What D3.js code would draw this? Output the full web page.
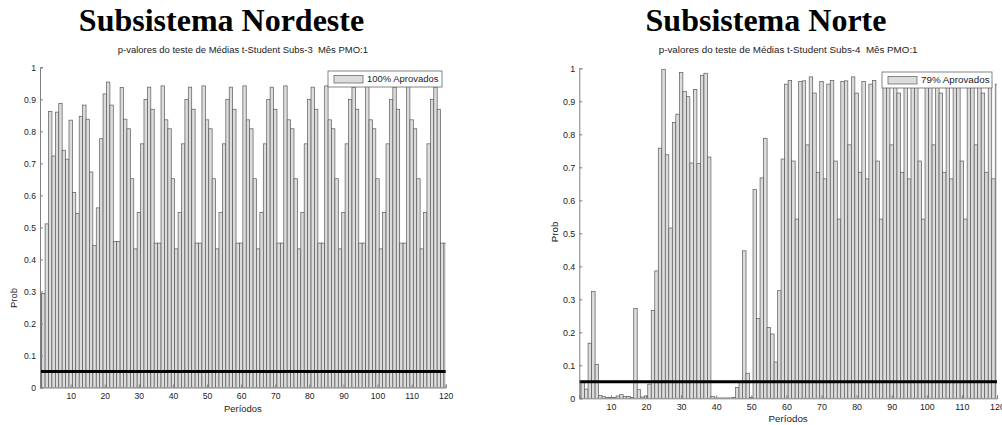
<!DOCTYPE html>
<html>
<head>
<meta charset="utf-8">
<script src="https://cdn.jsdelivr.net/npm/d3@7/dist/d3.min.js"></script>
<style>
  body { margin: 0; background: #fff; }
  svg text { font-family: "Liberation Sans", Arial, sans-serif; white-space: pre; }
</style>
</head>
<body>
<svg id="chart" width="1002" height="425"></svg>
<script>
// periods 1..120 on the x axis
const periods = d3.range(1, 121);
const xTicks = [10, 20, 30, 40, 50, 60, 70, 80, 90, 100, 110, 120];
const yTicks = [0, 0.1, 0.2, 0.3, 0.4, 0.5, 0.6, 0.7, 0.8, 0.9, 1];
const threshold = 0.05;

// Subs-3 (Nordeste), p-value per period
const nordesteValues = [
  0.294, 0.294, 0.511, 0.862, 0.723, 0.860, 0.887, 0.741, 0.713, 0.835,
  0.609, 0.543, 0.847, 0.882, 0.838, 0.673, 0.444, 0.561, 0.777, 0.917,
  0.954, 0.882, 0.456, 0.456, 0.937, 0.838, 0.808, 0.652, 0.433, 0.547,
  0.761, 0.900, 0.938, 0.869, 0.451, 0.451, 0.942, 0.836, 0.808, 0.652,
  0.433, 0.547, 0.761, 0.900, 0.938, 0.869, 0.451, 0.451, 0.942, 0.836,
  0.808, 0.652, 0.433, 0.547, 0.761, 0.900, 0.938, 0.869, 0.451, 0.451,
  0.942, 0.836, 0.808, 0.652, 0.433, 0.547, 0.761, 0.900, 0.938, 0.869,
  0.451, 0.451, 0.942, 0.836, 0.808, 0.652, 0.433, 0.547, 0.761, 0.900,
  0.938, 0.869, 0.451, 0.451, 0.942, 0.836, 0.808, 0.652, 0.433, 0.547,
  0.761, 0.900, 0.938, 0.869, 0.451, 0.451, 0.942, 0.836, 0.808, 0.652,
  0.433, 0.547, 0.761, 0.900, 0.938, 0.869, 0.451, 0.451, 0.942, 0.836,
  0.808, 0.652, 0.433, 0.547, 0.761, 0.900, 0.938, 0.869, 0.451, 0.451
];

// Subs-4 (Norte), p-value per period
const norteValues = [
  0.050, 0.050, 0.028, 0.167, 0.324, 0.103, 0.008, 0.005, 0.003, 0.002,
  0.003, 0.007, 0.011, 0.005, 0.006, 0.002, 0.272, 0.026, 0.004, 0.007,
  0.043, 0.266, 0.386, 0.758, 0.997, 0.738, 0.516, 0.836, 0.861, 0.987,
  0.930, 0.914, 0.713, 0.936, 0.711, 0.979, 0.985, 0.731, 0.006, 0.001,
  0.001, 0.001, 0.001, 0.001, 0.002, 0.033, 0.050, 0.447, 0.076, 0.002,
  0.633, 0.242, 0.668, 0.788, 0.215, 0.195, 0.110, 0.326, 0.725, 0.952,
  0.963, 0.719, 0.543, 0.960, 0.962, 0.768, 0.974, 0.925, 0.685, 0.960,
  0.665, 0.952, 0.963, 0.719, 0.543, 0.960, 0.962, 0.768, 0.974, 0.925,
  0.685, 0.960, 0.665, 0.952, 0.963, 0.719, 0.543, 0.960, 0.962, 0.768,
  0.974, 0.925, 0.685, 0.960, 0.665, 0.952, 0.963, 0.719, 0.543, 0.960,
  0.962, 0.768, 0.974, 0.925, 0.685, 0.960, 0.665, 0.952, 0.963, 0.719,
  0.543, 0.960, 0.962, 0.768, 0.974, 0.925, 0.685, 0.960, 0.665, 0.952
];

const panels = [
  {
    id: 'ne', values: nordesteValues,
    title: 'Subsistema Nordeste',
    subtitle: 'p-valores do teste de Médias t-Student Subs-3  Mês PMO:1',
    legend: '100% Aprovados',
    left: 40, right: 445.7, top: 67.3, bottom: 387.5,
    titleX: 221.5, font: 8.6,
    legendBox: [328, 71, 114, 16], probX: 17, probY: 298
  },
  {
    id: 'no', values: norteValues,
    title: 'Subsistema Norte',
    subtitle: 'p-valores do teste de Médias t-Student Subs-4  Mês PMO:1',
    legend: '79% Aprovados',
    left: 579.3, right: 997, top: 68.3, bottom: 398.3,
    titleX: 766, font: 8.9,
    legendBox: [882, 72, 110, 16], probX: 557.5, probY: 232
  }
];

const barFill = '#dcdcdc';
const barEdge = '#5a5a5a';
const axisColor = '#808080';


function drawBars(g, x, y, values, clipId) {
  g.append('g')
      .attr('class', 'bars')
      .attr('clip-path', `url(#${clipId})`)
    .selectAll('rect')
    .data(periods.map((p, i) => ({p, v: values[i]})))
    .enter().append('rect')
      .attr('x', d => x(d.p - 0.5))
      .attr('width', d => x(d.p + 0.5) - x(d.p - 0.5))
      .attr('y', d => y(d.v))
      .attr('height', d => y(0) - y(d.v))
      .style('fill', barFill)
      .style('stroke', barEdge)
      .style('stroke-width', 0.7);
}


function drawAxes(g, x, y, cfg) {
  const yAxis = g.append('g')
      .attr('transform', `translate(${cfg.left},0)`)
      .call(d3.axisLeft(y).tickValues(yTicks).tickSize(-3).tickPadding(4)
        .tickFormat(d3.format('~g')));
  const xAxis = g.append('g')
      .attr('transform', `translate(0,${cfg.bottom})`)
      .call(d3.axisBottom(x).tickValues(xTicks).tickSize(-3).tickPadding(5));
  [yAxis, xAxis].forEach(a => {
    a.select('.domain').attr('stroke', axisColor);
    a.selectAll('.tick line').attr('stroke', axisColor);
    a.selectAll('.tick text')
        .attr('fill', '#222')
        .style('font-size', `${cfg.font}px`)
        .style('font-family', '"Liberation Sans", Arial, sans-serif');
  });
  // axis labels
  g.append('text')
      .attr('x', (cfg.left + cfg.right) / 2)
      .attr('y', cfg.bottom + 24)
      .attr('text-anchor', 'middle')
      .style('font-size', `${cfg.font * 1.1}px`)
      .attr('fill', '#222')
      .text('Períodos');
  g.append('text')
      .attr('transform', `translate(${cfg.probX},${cfg.probY}) rotate(-90)`)
      .attr('text-anchor', 'middle')
      .style('font-size', `${cfg.font * 1.1}px`)
      .attr('fill', '#222')
      .text('Prob');
}


function drawLegend(g, cfg) {
  const [lx, ly, lw, lh] = cfg.legendBox;
  const lg = g.append('g').attr('class', 'legend');
  lg.append('rect')
      .attr('x', lx).attr('y', ly).attr('width', lw).attr('height', lh)
      .style('fill', '#fff')
      .style('stroke', '#666')
      .style('stroke-width', 0.8);
  lg.append('rect')
      .attr('x', lx + 6).attr('y', ly + 4.5).attr('width', 29).attr('height', 7.5)
      .style('fill', barFill)
      .style('stroke', barEdge)
      .style('stroke-width', 0.7);
  lg.append('text')
      .attr('x', lx + 39).attr('y', ly + lh / 2 + 3.4)
      .style('font-size', `${cfg.font * 1.1}px`)
      .attr('fill', '#222')
      .text(cfg.legend);
}


function drawPanel(svg, cfg) {
  const x = d3.scaleLinear().domain([1, 120]).range([cfg.left, cfg.right]);
  const y = d3.scaleLinear().domain([0, 1]).range([cfg.bottom, cfg.top]);
  const g = svg.append('g').attr('class', `panel-${cfg.id}`);
  const clipId = `clip-${cfg.id}`;
  svg.append('defs').append('clipPath').attr('id', clipId)
    .append('rect')
      .attr('x', cfg.left).attr('y', cfg.top - 5)
      .attr('width', cfg.right - cfg.left).attr('height', cfg.bottom - cfg.top + 5);

  g.append('text')
      .attr('x', cfg.titleX).attr('y', 31)
      .attr('text-anchor', 'middle')
      .style('font-family', '"Liberation Serif", "Times New Roman", serif')
      .style('font-weight', 'bold')
      .style('font-size', '32px')
      .attr('fill', '#000')
      .text(cfg.title);
  g.append('text')
      .attr('x', (cfg.left + cfg.right) / 2).attr('y', 53)
      .attr('text-anchor', 'middle')
      .style('font-size', `${cfg.font * 1.1}px`)
      .attr('fill', '#222')
      .text(cfg.subtitle);

  drawBars(g, x, y, cfg.values, clipId);

  g.append('line')
      .attr('x1', cfg.left).attr('x2', cfg.right)
      .attr('y1', y(threshold)).attr('y2', y(threshold))
      .style('stroke', '#000')
      .style('stroke-width', 3);

  drawAxes(g, x, y, cfg);
  drawLegend(g, cfg);
}


const svg = d3.select('#chart');
panels.forEach(cfg => drawPanel(svg, cfg));
</script>
</body>
</html>
